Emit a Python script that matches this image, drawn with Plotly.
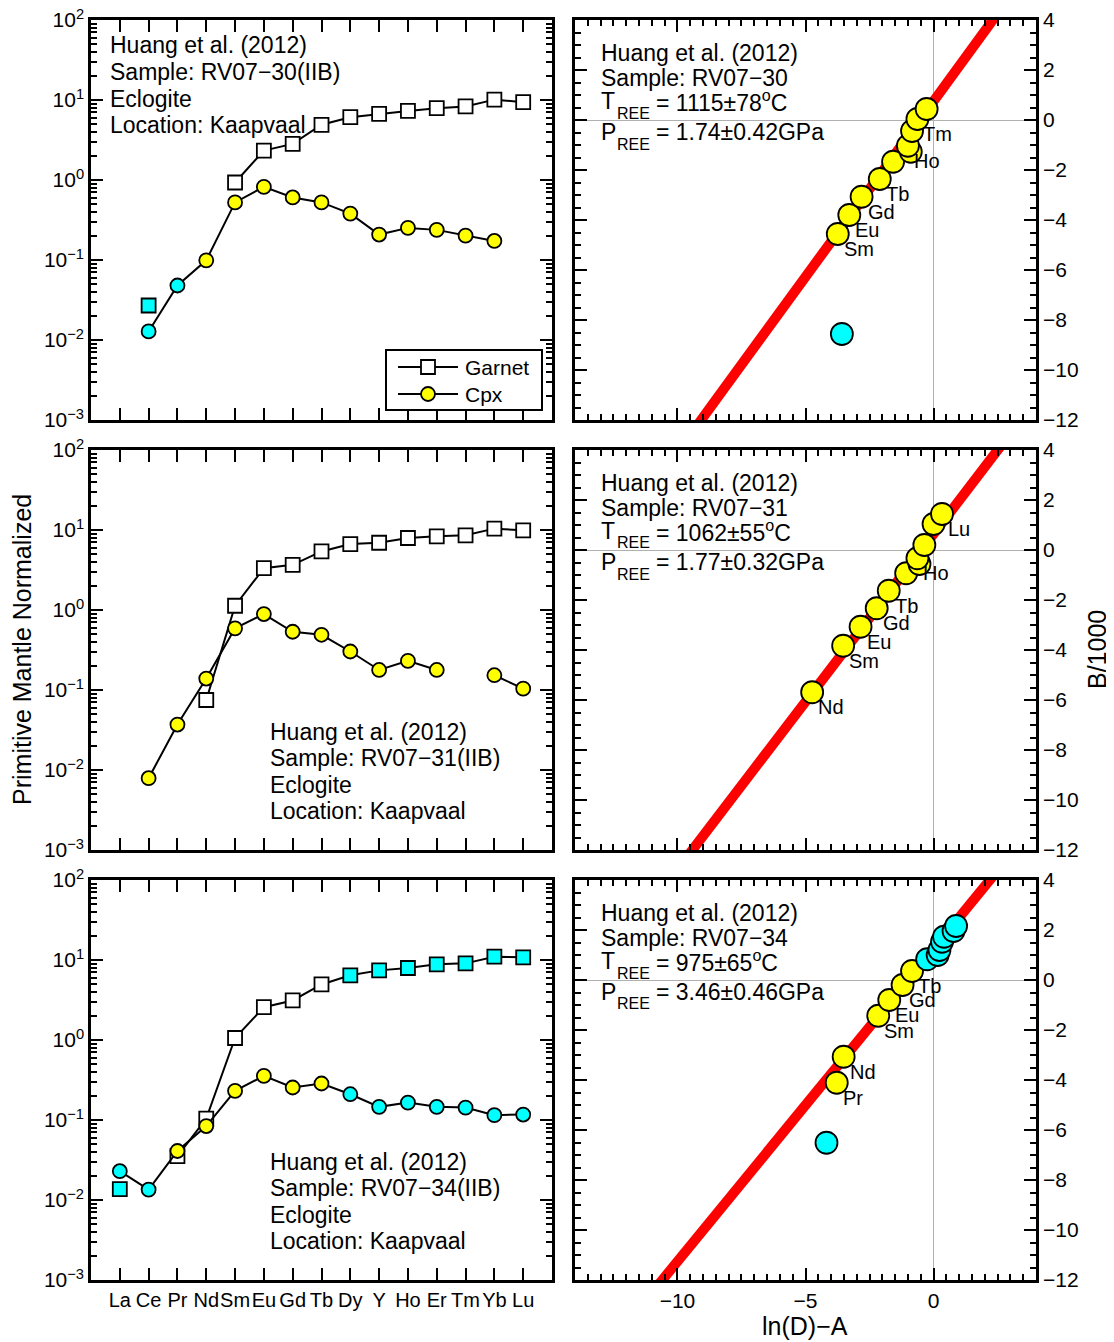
import plotly.graph_objects as go

# ---------------- data ----------------
REE = ["La", "Ce", "Pr", "Nd", "Sm", "Eu", "Gd", "Tb", "Dy", "Y", "Ho", "Er", "Tm", "Yb", "Lu"]

# Primitive-mantle normalized concentrations (None = not measured)
grt_30 = [None, 0.027, None, None, 0.93, 2.33, 2.83, 4.9, 6.1, 6.7, 7.3, 7.9, 8.3, 10.1, 9.4]
cpx_30 = [None, 0.0128, 0.048, 0.099, 0.525, 0.82, 0.605, 0.525, 0.38, 0.208, 0.252, 0.238, 0.202, 0.173, None]
grt_30_excl = ["Ce"]
cpx_30_excl = ["Ce", "Pr"]

grt_31 = [None, None, None, 0.075, 1.13, 3.33, 3.67, 5.4, 6.67, 6.93, 7.94, 8.34, 8.58, 10.4, 9.9]
cpx_31 = [None, 0.0079, 0.037, 0.139, 0.59, 0.89, 0.535, 0.49, 0.303, 0.178, 0.231, 0.178, None, 0.153, 0.104]
grt_31_excl = []
cpx_31_excl = []

grt_34 = [0.0137, None, 0.0353, 0.104, 1.06, 2.57, 3.12, 4.95, 6.43, 7.42, 7.94, 8.83, 9.08, 11.0, 10.8]
cpx_34 = [0.0229, 0.0135, 0.041, 0.084, 0.231, 0.356, 0.255, 0.286, 0.21, 0.146, 0.165, 0.146, 0.143, 0.115, 0.117]
grt_34_excl = ["La", "Dy", "Y", "Ho", "Er", "Tm", "Yb", "Lu"]
cpx_34_excl = ["La", "Ce", "Dy", "Y", "Ho", "Er", "Tm", "Yb", "Lu"]

# REE-in-two-pyroxene thermobarometer inversion: ln(D)-A vs B/1000
el_30 = ["Ce", "Sm", "Eu", "Gd", "Tb", "Dy", "Y", "Ho", "Er", "Tm", "Yb"]
lnD_30 = [-3.58, -3.74, -3.29, -2.81, -2.10, -1.58, -0.89, -1.00, -0.84, -0.63, -0.27]
B_30 = [-8.56, -4.56, -3.80, -3.07, -2.36, -1.67, -1.27, -1.03, -0.44, 0.04, 0.44]
excl_30 = ["Ce"]
lab_30 = ["Sm", "Eu", "Gd", "Tb", "Ho", "Tm"]
fit_30 = (1.405, 0.75)  # slope, intercept

el_31 = ["Nd", "Sm", "Eu", "Gd", "Tb", "Dy", "Y", "Ho", "Er", "Yb", "Lu"]
lnD_31 = [-4.74, -3.53, -2.85, -2.22, -1.75, -1.07, -0.55, -0.63, -0.36, 0.0, 0.33]
B_31 = [-5.69, -3.83, -3.07, -2.33, -1.63, -0.93, -0.56, -0.33, 0.20, 1.04, 1.44]
excl_31 = []
lab_31 = ["Nd", "Sm", "Eu", "Gd", "Tb", "Ho", "Lu"]
fit_31 = (1.342, 0.64)

el_34 = ["La", "Pr", "Nd", "Sm", "Eu", "Gd", "Tb", "Dy", "Y", "Ho", "Er", "Tm", "Yb", "Lu"]
lnD_34 = [-4.18, -3.78, -3.51, -2.16, -1.73, -1.21, -0.84, -0.25, 0.16, 0.23, 0.33, 0.41, 0.78, 0.88]
B_34 = [-6.51, -4.11, -3.07, -1.43, -0.80, -0.20, 0.36, 0.83, 1.00, 1.20, 1.53, 1.73, 1.96, 2.16]
excl_34 = ["La", "Dy", "Y", "Ho", "Er", "Tm", "Yb", "Lu"]
lab_34 = ["Pr", "Nd", "Sm", "Eu", "Gd", "Tb"]
fit_34 = (1.251, 1.25)

samples = ["RV07\u221230", "RV07\u221231", "RV07\u221234"]
T_txt = ["1115\u00b178", "1062\u00b155", "975\u00b165"]
P_txt = ["1.74\u00b10.42", "1.77\u00b10.32", "3.46\u00b10.46"]

# ---------------- layout helpers ----------------
W, H = 1114, 1342
OFF = 8  # default page (body) margin
FONT = "Liberation Sans, Arial, Helvetica, sans-serif"
YEL, CYA = "#ffff00", "#00ffff"


def fx(p):
    return (p - OFF) / W


def fy(p):
    return 1 - (p - OFF) / H


LEFT_X = (91, 552)
RIGHT_X = (575, 1036)
ROWS = [(20, 420), (450, 850), (880, 1280)]

fig = go.Figure()
layout = dict(
    width=W, height=H, margin=dict(l=0, r=0, t=0, b=0, autoexpand=False),
    paper_bgcolor="white", plot_bgcolor="white", showlegend=False,
    font=dict(family=FONT, size=20, color="black"),
)

log_major = [1e-3, 1e-2, 1e-1, 1e0, 1e1, 1e2]
log_text = ["10<sup>\u22123</sup>", "10<sup>\u22122</sup>", "10<sup>\u22121</sup>",
            "10<sup>0</sup>", "10<sup>1</sup>", "10<sup>2</sup>"]
log_minor = [k * 10.0 ** e for e in range(-3, 2) for k in range(2, 10)]

common_ax = dict(showline=True, linewidth=2.5, linecolor="black", mirror="ticks",
                 ticks="inside", ticklen=12, tickwidth=2, tickcolor="black",
                 showgrid=False, automargin=False, ticklabeloverflow="allow",
                 tickfont=dict(size=21, family=FONT, color="black"))

ann = []
shapes = []


def txt(x, y, t, size=23, **kw):
    d = dict(x=fx(x), y=fy(y), xref="paper", yref="paper", text=t, showarrow=False,
             xanchor="left", yanchor="middle", font=dict(size=size, family=FONT, color="black"))
    d.update(kw)
    ann.append(d)


grt_sets = [(grt_30, grt_30_excl), (grt_31, grt_31_excl), (grt_34, grt_34_excl)]
cpx_sets = [(cpx_30, cpx_30_excl), (cpx_31, cpx_31_excl), (cpx_34, cpx_34_excl)]
right_sets = [(el_30, lnD_30, B_30, excl_30, lab_30, fit_30),
              (el_31, lnD_31, B_31, excl_31, lab_31, fit_31),
              (el_34, lnD_34, B_34, excl_34, lab_34, fit_34)]
xpos = list(range(len(REE)))

for r, (top, bot) in enumerate(ROWS):
    nL = 2 * r + 1
    nR = 2 * r + 2
    dom_y = [fy(bot), fy(top)]
    kxL = "xaxis" if nL == 1 else f"xaxis{nL}"
    kyL = "yaxis" if nL == 1 else f"yaxis{nL}"
    kxR, kyR = f"xaxis{nR}", f"yaxis{nR}"
    refxL = "x" if nL == 1 else f"x{nL}"
    refyL = "y" if nL == 1 else f"y{nL}"
    refxR, refyR = f"x{nR}", f"y{nR}"

    layout[kxL] = dict(common_ax, domain=[fx(LEFT_X[0]), fx(LEFT_X[1])], range=[-1, 15],
                       tickmode="array", tickvals=xpos, ticktext=REE, tickangle=0,
                       showticklabels=(r == 2), anchor=refyL, zeroline=False,
                       tickfont=dict(size=20, family=FONT, color="black"))
    layout[kyL] = dict(common_ax, domain=dom_y, type="log", range=[-3, 2],
                       tickmode="array", tickvals=log_major, ticktext=log_text,
                       anchor=refxL, zeroline=False,
                       minor=dict(tickmode="array", tickvals=log_minor, ticks="inside",
                                  ticklen=6, tickwidth=1.5, tickcolor="black"))
    layout[kxR] = dict(common_ax, domain=[fx(RIGHT_X[0]), fx(RIGHT_X[1])], range=[-14, 4],
                       tickmode="array", tickvals=[-10, -5, 0], showticklabels=(r == 2),
                       anchor=refyR, zeroline=True, zerolinecolor="#b0b0b0", zerolinewidth=1.2,
                       minor=dict(dtick=0.5, ticks="inside", ticklen=6, tickwidth=1.5,
                                  tickcolor="black"))
    layout[kyR] = dict(common_ax, domain=dom_y, range=[-12, 4], side="right",
                       tickmode="linear", tick0=0, dtick=2, anchor=refxR,
                       zeroline=True, zerolinecolor="#b0b0b0", zerolinewidth=1.2,
                       minor=dict(dtick=0.5, ticks="inside", ticklen=6, tickwidth=1.5,
                                  tickcolor="black"))

    # ---- left: spider diagram ----
    g, gex = grt_sets[r]
    c, cex = cpx_sets[r]
    fig.add_trace(go.Scatter(
        x=xpos, y=g, mode="lines+markers", xaxis=refxL, yaxis=refyL,
        line=dict(color="black", width=2), connectgaps=False, cliponaxis=False,
        marker=dict(symbol="square", size=14,
                    color=[CYA if e in gex else "white" for e in REE],
                    line=dict(color="black", width=1.8))))
    fig.add_trace(go.Scatter(
        x=xpos, y=c, mode="lines+markers", xaxis=refxL, yaxis=refyL,
        line=dict(color="black", width=2), connectgaps=False, cliponaxis=False,
        marker=dict(symbol="circle", size=14,
                    color=[CYA if e in cex else YEL for e in REE],
                    line=dict(color="black", width=1.8))))

    # ---- right: inversion diagram ----
    el, xs, ys, ex, lab, (sl, ic) = right_sets[r]
    xr = [-14, 4]
    fig.add_trace(go.Scatter(x=xr, y=[sl * v + ic for v in xr], mode="lines",
                             xaxis=refxR, yaxis=refyR,
                             line=dict(color="#ff0000", width=10)))
    fig.add_trace(go.Scatter(
        x=xs, y=ys, mode="markers", xaxis=refxR, yaxis=refyR,
        marker=dict(symbol="circle", size=22,
                    color=[CYA if e in ex else YEL for e in el],
                    line=dict(color="black", width=1.8))))
    for e, xv, yv in zip(el, xs, ys):
        if e in lab:
            ann.append(dict(x=xv, y=yv, xref=refxR, yref=refyR, text=e, showarrow=False,
                            xanchor="left", yanchor="middle", xshift=4, yshift=-15,
                            font=dict(size=20, family=FONT, color="black")))

    # ---- texts (left) ----
    if r == 0:
        lx, ly = 110, [45, 72, 99, 125]
    else:
        lx = 270
        ly = [top + 282, top + 308, top + 335, top + 361]
    lines = ["Huang et al. (2012)", f"Sample: {samples[r]}(IIB)", "Eclogite", "Location: Kaapvaal"]
    for t, yy in zip(lines, ly):
        txt(lx - 2, yy, t)

    # ---- texts (right) ----
    rx = 599
    txt(rx, top + 33, "Huang et al. (2012)")
    txt(rx, top + 58, f"Sample: {samples[r]}")
    txt(rx, top + 81, "T")
    txt(rx + 16, top + 93, "REE", size=16)
    txt(rx + 55, top + 81, f"= {T_txt[r]}<sup>o</sup>C")
    txt(rx, top + 112, "P")
    txt(rx + 16, top + 124, "REE", size=16)
    txt(rx + 55, top + 112, f"= {P_txt[r]}GPa")

# ---- legend (panel 1) ----
shapes.append(dict(type="rect", xref="paper", yref="paper", x0=fx(386), x1=fx(542),
                   y0=fy(410), y1=fy(350), line=dict(color="black", width=2),
                   fillcolor="white", layer="above"))
for yy in (367, 394):
    shapes.append(dict(type="line", xref="paper", yref="paper", x0=fx(398), x1=fx(458),
                       y0=fy(yy), y1=fy(yy), line=dict(color="black", width=2), layer="above"))
shapes.append(dict(type="rect", xref="paper", yref="paper", x0=fx(421), x1=fx(435),
                   y0=fy(374), y1=fy(360), line=dict(color="black", width=1.8),
                   fillcolor="white", layer="above"))
shapes.append(dict(type="circle", xref="paper", yref="paper", x0=fx(421), x1=fx(435),
                   y0=fy(401), y1=fy(387), line=dict(color="black", width=1.8),
                   fillcolor=YEL, layer="above"))
txt(463, 367, "Garnet", size=21)
txt(463, 394, "Cpx", size=21)

# ---- axis titles ----
txt(22, 650, "Primitive Mantle Normalized", size=25, textangle=-90, xanchor="center")
txt(1097, 650, "B/1000", size=25, textangle=-90, xanchor="center")
txt(805, 1326, "ln(D)\u2212A", size=25, xanchor="center")

layout["annotations"] = ann
layout["shapes"] = shapes
fig.update_layout(**layout)
fig.write_html("out.html")
